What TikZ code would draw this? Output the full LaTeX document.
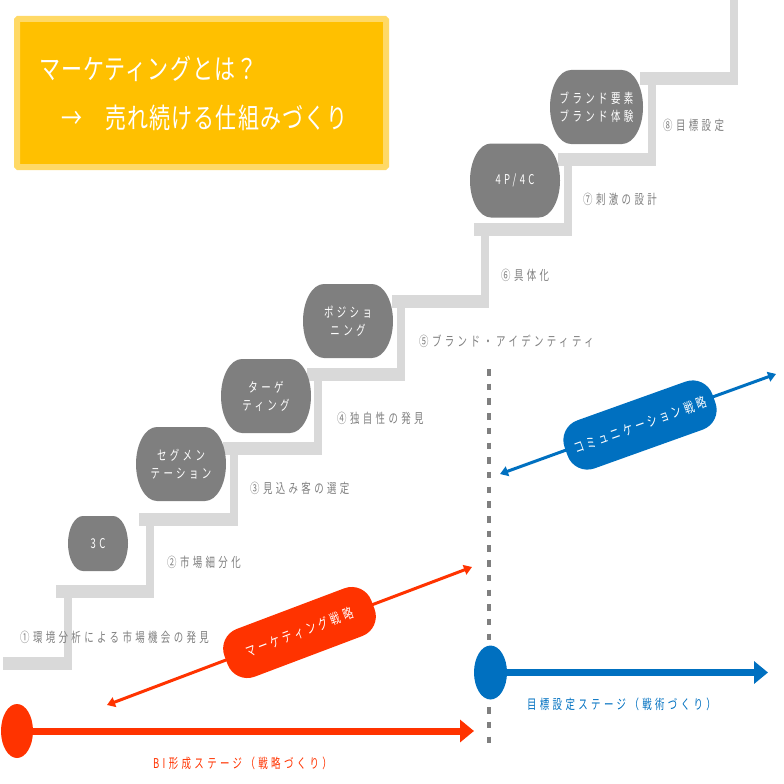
\documentclass[tikz,border=0pt]{standalone}
\usepackage{fontspec}
\usepackage{xcolor}
\usetikzlibrary{arrows.meta, shapes.geometric}

\newfontfamily\jpfont[FakeStretch=0.7,LetterSpace=25]{Noto Sans CJK JP}
\newfontfamily\pillfont[FakeStretch=0.7,LetterSpace=23]{Noto Sans CJK JP}
\newfontfamily\titlefont[FakeStretch=0.75,LetterSpace=4]{Noto Sans CJK JP}

\definecolor{StairGray}{HTML}{D9D9D9}
\definecolor{BoxGray}{HTML}{7F7F7F}
\definecolor{TitleFill}{HTML}{FFC000}
\definecolor{TitleEdge}{HTML}{FFD966}
\definecolor{BiRed}{HTML}{FF3300}
\definecolor{GoalBlue}{HTML}{0070C0}

\begin{document}
\begin{tikzpicture}[
    x=1pt, y=-1pt,
    >={Triangle[length=8pt, width=10pt]},
    title/.style={draw=TitleEdge, fill=TitleFill, line width=6pt, rounded corners=1pt, minimum width=369pt, minimum height=148pt, inner xsep=22pt, inner ysep=0pt, text width=325pt, align=left, text=white, font=\titlefont\fontsize{28}{49}\selectfont},
    stage/.style={inner sep=0pt, align=center, text=white, font=\jpfont\fontsize{13.5}{18}\selectfont},
    steplabel/.style={anchor=west, inner sep=0pt, text=BoxGray, font=\jpfont\fontsize{13.5}{15}\selectfont},
    pill/.style={rounded corners=21pt, minimum width=157pt, minimum height=51pt, inner sep=0pt, text=white, font=\pillfont\fontsize{14}{16}\selectfont},
    dot/.style={ellipse, minimum width=32pt, minimum height=54pt, inner sep=0pt},
    thinarrow/.style={line width=3pt, <->},
    bigarrow/.style={line width=7pt, -{Triangle[length=14pt, width=22pt]}}]

    \useasboundingbox (0,0) rectangle (784,784);

    %%% Stairs
    \foreach \xa/\xb/\ya/\yb in {3/72/657/585, 56/154/585/513, 139/238/513/442, 223/322/442/368, 307/405/368/295, 392/489/295/223, 474/572/223/153, 558/656/153/72, 640/738/72/0} {
        \fill[StairGray] (\xa,\ya) rectangle (\xb,\ya+13);
        \fill[StairGray] (\xb-8,\yb) rectangle (\xb,\ya);
    }

    \node at (201.5,93) [title] (headline) {マーケティングとは？\\　→　売れ続ける仕組みづくり};

    %%% Stage boxes: corners are wider than they are tall
    \foreach \cx/\cy/\hw/\hh/\rx in {98/543.5/30/27.5/15, 181/464/45/37/21, 266/396/45/37/21, 348/321/45/37/21, 515/180.5/45/37/21, 596.5/107/46.5/37/21} {
        \fill[BoxGray] (\cx-\hw+\rx,\cy-\hh)
            -- (\cx+\hw-\rx,\cy-\hh) arc[start angle=90, end angle=0, x radius=\rx pt, y radius=\hh pt]
            arc[start angle=0, end angle=-90, x radius=\rx pt, y radius=\hh pt]
            -- (\cx-\hw+\rx,\cy+\hh) arc[start angle=270, end angle=180, x radius=\rx pt, y radius=\hh pt]
            arc[start angle=180, end angle=90, x radius=\rx pt, y radius=\hh pt] -- cycle;
    }

    \node at (98,543.5) [stage] (threec) {3C};
    \node at (181,464) [stage] (segment) {セグメン\\テーション};
    \node at (266,396) [stage] (target) {ターゲ\\ティング};
    \node at (348,321) [stage] (position) {ポジショ\\ニング};
    \node at (515,180.5) [stage] (fourp) {4P/4C};
    \node at (596.5,107) [stage] (brand) {ブランド要素\\ブランド体験};

    \node at (20,637) [steplabel] (labelone) {①環境分析による市場機会の発見};
    \node at (167,562) [steplabel] (labeltwo) {②市場細分化};
    \node at (250,488) [steplabel] (labelthree) {③見込み客の選定};
    \node at (337,418) [steplabel] (labelfour) {④独自性の発見};
    \node at (419,341) [steplabel] (labelfive) {⑤ブランド・アイデンティティ};
    \node at (501,275) [steplabel] (labelsix) {⑥具体化};
    \node at (583,199) [steplabel] (labelseven) {⑦刺激の設計};
    \node at (663,125) [steplabel] (labeleight) {⑧目標設定};

    %%% Divider
    \coordinate (dividertop) at (489,369);
    \coordinate (dividerend) at (489,744);
    \draw[BoxGray, line width=4.5pt, dash pattern=on 6.5pt off 8.2pt] (dividertop) -- (dividerend);

    %%% Strategies
    \coordinate (redleft) at (107,705);
    \coordinate (redright) at (472,567);
    \coordinate (blueleft) at (500,474);
    \coordinate (blueright) at (776,374);
    \draw[thinarrow, BiRed] (redleft) -- (redright);
    \draw[thinarrow, GoalBlue] (blueleft) -- (blueright);
    \node at (299.5,632.5) [pill, fill=BiRed, rotate=20.7] (redpill) {マーケティング戦略};
    \node at (640,425) [pill, fill=GoalBlue, rotate=19.7] (bluepill) {コミュニケーション戦略};

    %%% Stages
    \node at (17,731) [dot, fill=BiRed] (redstart) {};
    \coordinate (redend) at (474,731);
    \draw[bigarrow, BiRed] (redstart) -- (redend);
    \node at (242.5,763) [text=BiRed, inner sep=0pt, font=\jpfont\fontsize{13.5}{15}\selectfont] (redstage) {BI形成ステージ（戦略づくり）};

    \node at (490.5,672.5) [dot, fill=GoalBlue, minimum width=33pt] (bluestart) {};
    \coordinate (blueend) at (768,672.5);
    \draw[bigarrow, GoalBlue] (bluestart) -- (blueend);
    \node at (621.5,704) [text=GoalBlue, inner sep=0pt, font=\jpfont\fontsize{13.5}{15}\selectfont] (bluestage) {目標設定ステージ（戦術づくり）};

\end{tikzpicture}
\end{document}
